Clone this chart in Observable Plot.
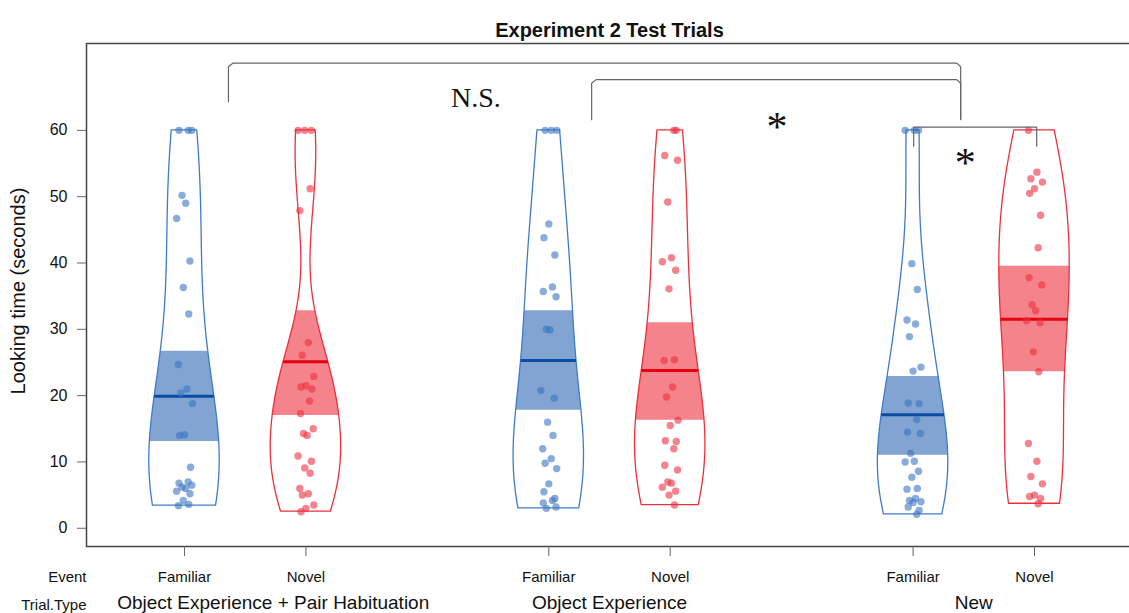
<!DOCTYPE html>
<html><head><meta charset="utf-8">
<script src="https://cdn.jsdelivr.net/npm/d3@7"></script>
<script src="https://cdn.jsdelivr.net/npm/@observablehq/plot@0.6"></script>
<style>
html,body{margin:0;padding:0;background:#fff;overflow:hidden;}
#chart{width:1129px;height:613px;overflow:hidden;}
#chart svg{max-width:none !important;font-family:"Liberation Sans",Arial,sans-serif;}
</style></head><body><div id="chart"></div>
<script>
// ---- data ----
const events = ["Familiar","Novel","Familiar","Novel","Familiar","Novel"];
const trialTypes = ["Object Experience + Pair Habituation","Object Experience","New"];
const beanPositions = [1,2,4,5,7,8];
const yTicks = [0,10,20,30,40,50,60];

const familiarOEPH = [60,60,60,50.2,49.0,46.7,40.3,36.3,32.3,24.7,21.0,20.4,18.8,14.1,14.0,9.2,7.0,6.8,6.5,6.2,6.0,5.6,5.2,4.2,3.6,3.4];
const novelOEPH    = [60,60,60,51.2,47.9,28.0,26.1,22.9,21.5,21.3,21.0,19.2,17.3,15.0,14.3,14.0,10.9,10.1,9.1,8.3,6.0,5.2,5.0,3.5,3.0,2.5];
const familiarOE   = [60,60,60,45.9,43.8,41.2,36.4,35.7,34.9,30.0,29.9,20.8,19.6,16.0,14.0,12.0,10.5,9.8,9.0,6.7,5.5,4.5,4.2,3.8,3.2,3.0];
const novelOE      = [60,60,56.2,55.5,49.2,40.8,40.2,38.9,36.1,25.4,25.3,21.3,19.8,16.3,15.5,13.2,13.1,12.0,9.5,8.8,7.0,6.8,6.2,5.6,5.0,3.5];
const familiarNew  = [60,60,60,39.9,36.0,31.4,30.8,28.9,24.3,23.7,18.9,18.8,16.4,14.5,14.3,11.3,10.1,10.0,8.6,7.7,6.0,5.9,4.5,4.2,4.0,3.9,3.2,2.7,2.1];
const novelNew     = [60,53.7,52.7,52.2,51.2,50.5,47.2,42.3,37.8,36.7,33.7,32.8,31.3,31.0,26.6,23.6,12.8,10.1,7.8,6.7,5.0,4.8,4.5,3.7];

const means   = [19.9,25.1,25.3,23.8,17.1,31.5];
const infLow  = [13.1,17.0,17.8,16.3,11.0,23.6];
const infHigh = [26.7,32.8,32.8,31.0,22.9,39.5];

// significance annotations
const bracketAll   = {x:[1.362,1.362,1.40,7.36,7.392,7.392], y:[64.3,69.6,70.15,70.15,69.6,61.7]};
const bracketOE    = {x:[4.353,4.353,4.39,7.36,7.392,7.392], y:[61.6,67.1,67.65,67.65,67.1,61.6]};
const bracketNew   = {x:[7.005,7.005,8.018,8.018], y:[57.6,60.5,60.5,57.6]};
const sigLabels    = ["N.S.","*","*"];
const sigX         = [3.40,5.88,7.43];
const sigY         = [64.9,60.9,55.4];

// ---- styling ----
const palette = {
  Familiar:{outline:"#3f7cc8", band:"#2d67b6", mean:"#0b4da2", point:"#3a74c2"},
  Novel:{outline:"#ee2f3a", band:"#ef3040", mean:"#e4000f", point:"#ec3141"}
};
const jitter = [0.03,-0.045,0.06,-0.02,0.01,-0.065,0.045,-0.01,0.035,-0.05,0.02,-0.03,0.065,0.0,-0.04,0.05];
const halfWidthMax = 0.29;
const bwAdjust = 1.3;

const groups = [familiarOEPH, novelOEPH, familiarOE, novelOE, familiarNew, novelNew];

function nrd0(v){
  const s = d3.deviation(v);
  const iqr = d3.quantile(v,0.75) - d3.quantile(v,0.25);
  let lo = Math.min(s, iqr/1.34);
  if (!(lo > 0)) lo = s || 1;
  return 0.9*lo*Math.pow(v.length,-0.2);
}
function makeDensity(v){
  const bw = nrd0(v)*bwAdjust;
  const f = y => d3.sum(v, d => Math.exp(-0.5*((y-d)/bw)**2));
  const lo = d3.min(v), hi = d3.max(v);
  const grid = d3.range(0,201).map(k => lo + (hi-lo)*k/200);
  const maxD = d3.max(grid, f);
  return {lo, hi, w: y => f(y)/maxD*halfWidthMax};
}

const marks = [];
const beanRows = [], bandRows = [], meanRows = [], pointRows = [];
groups.forEach((v,i) => {
  const pos = beanPositions[i];
  const ev = events[i];
  const dens = makeDensity(v);
  d3.range(0,201).forEach(k => {
    const y = dens.lo + (dens.hi-dens.lo)*k/200;
    const w = dens.w(y);
    beanRows.push({g:i, ev, y, x1:pos-w, x2:pos+w});
  });
  d3.range(0,101).forEach(k => {
    const y = infLow[i] + (infHigh[i]-infLow[i])*k/100;
    const w = dens.w(y);
    bandRows.push({g:i, ev, y, x1:pos-w, x2:pos+w});
  });
  const wm = dens.w(means[i]);
  meanRows.push({g:i, ev, y:means[i], x1:pos-wm, x2:pos+wm});
  v.forEach((d,j) => pointRows.push({g:i, ev, y:d, x:pos + jitter[(j + i*5) % jitter.length]}));
});

for (const ev of ["Familiar","Novel"]) {
  const c = palette[ev];
  for (let i = 0; i < groups.length; i++) {
    if (events[i] !== ev) continue;
    marks.push(Plot.areaX(bandRows.filter(d => d.g === i), {y:"y", x1:"x1", x2:"x2", fill:c.band, fillOpacity:0.6}));
    marks.push(Plot.areaX(beanRows.filter(d => d.g === i), {y:"y", x1:"x1", x2:"x2", fill:"none", stroke:c.outline, strokeWidth:1.3}));
  }
  marks.push(Plot.ruleY(meanRows.filter(d => d.ev === ev), {y:"y", x1:"x1", x2:"x2", stroke:c.mean, strokeWidth:3}));
  marks.push(Plot.dot(pointRows.filter(d => d.ev === ev), {x:"x", y:"y", r:3.7, fill:c.point, fillOpacity:0.6, stroke:"none"}));
}

const toRows = b => b.x.map((x,k) => ({x, y:b.y[k]}));
const bracketStyle = {x:"x", y:"y", stroke:"#666", strokeWidth:1.2};
const sigRows = sigLabels.map((t,k) => ({t, x:sigX[k], y:sigY[k]}));

const chart = Plot.plot({
  width: 1140, height: 613,
  marginLeft: 86, marginRight: 8, marginTop: 43, marginBottom: 67,
  x: {domain:[0.193, 8.807], axis:null},
  y: {domain:[-2.75, 73.1], axis:null},
  style: {fontFamily:'"Liberation Sans", Arial, sans-serif', background:"#fff", color:"#111", maxWidth:"none"},
  marks: [
    ...marks,
    Plot.line(toRows(bracketAll), bracketStyle),
    Plot.line(toRows(bracketOE), bracketStyle),
    Plot.line(toRows(bracketNew), bracketStyle),
    Plot.text(sigRows.filter(d => d.t === "N.S."),
      {x:"x", y:"y", text:"t", fontFamily:'"Liberation Serif", "Times New Roman", serif', fontSize:28, fill:"#111"}),
    Plot.text(sigRows.filter(d => d.t === "*"),
      {x:"x", y:"y", text:"t", fontFamily:'"Liberation Serif", "Times New Roman", serif', fontSize:42, fill:"#111", dy:3}),
    Plot.frame({stroke:"#444", strokeWidth:1.5}),
    Plot.axisY({ticks:yTicks, tickSize:9, tickPadding:10, fontSize:16, label:null, stroke:"#666"}),
    Plot.axisX({ticks:beanPositions, tickSize:10, tickFormat:() => "", label:null, stroke:"#666"}),
    Plot.text(beanPositions.map((p,i) => ({p, t:events[i]})), {x:"p", text:"t", frameAnchor:"bottom", dy:35, fontSize:15, fill:"#111"}),
    Plot.text(["Event"], {frameAnchor:"bottom-left", dy:35, textAnchor:"end", fontSize:15, fill:"#111"}),
    Plot.text(["Trial.Type"], {frameAnchor:"bottom-left", dy:63, textAnchor:"end", fontSize:15, fill:"#111"}),
    Plot.text(trialTypes.slice(0,1).map(t => ({t, x:d3.mean([beanPositions[0], beanPositions[1]])})),
      {x:"x", text:"t", frameAnchor:"bottom", dy:62, dx:28, fontSize:19, fill:"#111"}),
    Plot.text(trialTypes.slice(1).map((t,k) => ({t, x:d3.mean([beanPositions[2*(k+1)], beanPositions[2*(k+1)+1]])})),
      {x:"x", text:"t", frameAnchor:"bottom", dy:62, fontSize:19, fill:"#111"}),
    Plot.text(["Experiment 2 Test Trials"], {frameAnchor:"top", dy:-21, fontSize:20, fontWeight:"bold", fill:"#111"}),
    Plot.text(["Looking time (seconds)"], {frameAnchor:"left", dx:-68, dy:-4, rotate:-90, textAnchor:"middle", fontSize:20, fill:"#111"})
  ]
});
document.getElementById("chart").append(chart);
</script></body></html>
